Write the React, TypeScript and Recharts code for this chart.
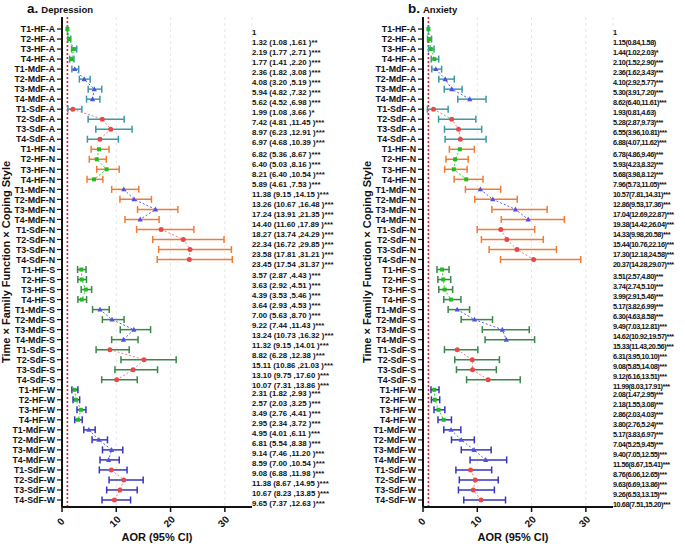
import React from "react";
import {
  ScatterChart,
  Scatter,
  XAxis,
  YAxis,
  CartesianGrid,
  ErrorBar,
  ReferenceLine,
} from "recharts";

const times = ["T1", "T2", "T3", "T4"];
const families = ["HF", "MdF", "SdF"];
const copings = ["A", "N", "S", "W"];

// Depression (panel a), 48 rows: coping x family x time
const depAor = [
  1, 1.32, 2.19, 1.77, 2.36, 4.08, 5.94, 5.62, 1.99, 7.42, 8.97, 6.97,
  6.82, 6.4, 8.21, 5.89, 11.38, 13.26, 17.24, 14.4, 18.27, 22.34, 23.58, 23.45,
  3.57, 3.63, 4.39, 3.64, 7.0, 9.22, 13.24, 11.32, 8.82, 15.11, 13.1, 10.07,
  2.31, 2.57, 3.49, 2.95, 4.95, 6.81, 9.14, 8.59, 9.08, 11.38, 10.67, 9.65,
];
const depLow = [
  1, 1.08, 1.77, 1.41, 1.82, 3.2, 4.82, 4.52, 1.08, 4.81, 6.23, 4.68,
  5.36, 5.03, 6.4, 4.61, 9.15, 10.67, 13.91, 11.6, 13.74, 16.72, 17.81, 17.54,
  2.87, 2.92, 3.53, 2.93, 5.63, 7.44, 10.73, 9.15, 6.28, 10.86, 9.75, 7.31,
  1.82, 2.03, 2.76, 2.34, 4.01, 5.54, 7.46, 7.0, 6.88, 8.67, 8.23, 7.37,
];
const depHigh = [
  1, 1.61, 2.71, 2.2, 3.08, 5.19, 7.32, 6.98, 3.66, 11.45, 12.91, 10.39,
  8.67, 8.16, 10.54, 7.53, 14.15, 16.48, 21.35, 17.89, 24.29, 29.85, 31.21, 31.37,
  4.43, 4.51, 5.46, 4.53, 8.7, 11.43, 16.32, 14.01, 12.38, 21.03, 17.6, 13.86,
  2.93, 3.25, 4.41, 3.72, 6.11, 8.38, 11.2, 10.54, 11.98, 14.95, 13.85, 12.63,
];
const depSig = [
  "", "**", "***", "***", "***", "***", "***", "***", "*", "***", "***", "***",
  ...Array(36).fill("***"),
];

// Anxiety (panel b)
const anxAor = [
  1, 1.15, 1.44, 2.1, 2.36, 4.1, 5.3, 8.62, 1.93, 5.28, 6.55, 6.88,
  6.78, 5.93, 5.68, 7.96, 10.57, 12.86, 17.04, 19.38, 14.33, 15.44, 17.3, 20.37,
  3.51, 3.74, 3.99, 5.17, 6.3, 9.49, 14.62, 15.33, 6.31, 9.08, 9.12, 11.99,
  2.08, 2.18, 2.86, 3.8, 5.17, 7.04, 9.4, 11.56, 8.76, 9.63, 9.26, 10.68,
];
const anxLow = [
  1, 0.84, 1.02, 1.52, 1.62, 2.92, 3.91, 6.4, 0.81, 2.87, 3.96, 4.07,
  4.86, 4.23, 3.98, 5.73, 7.81, 9.53, 12.69, 14.42, 9.98, 10.76, 12.18, 14.28,
  2.57, 2.74, 2.91, 3.82, 4.63, 7.03, 10.92, 11.43, 3.95, 5.85, 6.16, 8.03,
  1.47, 1.55, 2.03, 2.76, 3.83, 5.25, 7.05, 8.67, 6.06, 6.69, 6.53, 7.51,
];
const anxHigh = [
  1, 1.58, 2.03, 2.9, 3.43, 5.77, 7.2, 11.61, 4.63, 9.73, 10.81, 11.62,
  9.46, 8.32, 8.12, 11.05, 14.31, 17.36, 22.87, 26.04, 20.58, 22.16, 24.58, 29.07,
  4.8, 5.1, 5.46, 6.99, 8.58, 12.81, 19.57, 20.56, 10.1, 14.08, 13.51, 17.91,
  2.95, 3.08, 4.03, 5.24, 6.97, 9.45, 12.55, 15.41, 12.65, 13.86, 13.15, 15.2,
];
const anxSig = [
  "", "", "*", "***", "***", "***", "***", "***", "", "***", "***", "***",
  ...Array(36).fill("***"),
];

const xTicks = [0, 10, 20, 30];

const FONT = "'Liberation Sans', Arial, sans-serif";

const familyLine: Record<string, string> = {
  HF: "#22dd22",
  MdF: "#5a5af0",
  SdF: "#f08080",
};
const familyPoint: Record<string, string> = {
  HF: "#22bb22",
  MdF: "#5050e6",
  SdF: "#e84848",
};
const copingColor: Record<string, string> = {
  A: "#3d98a8",
  N: "#f07b35",
  S: "#3b8748",
  W: "#3535c0",
};

const rowLabels: string[] = [];
copings.forEach((c) =>
  families.forEach((f) => times.forEach((t) => rowLabels.push(`${t}-${f}-${c}`)))
);
const rowTicks = rowLabels.map((_, i) => i);

const makeMarker = (family: string) => (props: any) => {
  const { cx, cy } = props;
  if (cx == null || cy == null) return <g />;
  const fill = familyPoint[family];
  if (family === "HF") {
    return <rect x={cx - 2} y={cy - 2} width={4} height={4} fill={fill} />;
  }
  if (family === "MdF") {
    return (
      <polygon
        points={`${cx},${cy - 2.8} ${cx - 2.6},${cy + 2} ${cx + 2.6},${cy + 2}`}
        fill={fill}
      />
    );
  }
  return <circle cx={cx} cy={cy} r={2.5} fill={fill} />;
};

interface PanelProps {
  aor: number[];
  low: number[];
  high: number[];
  notes: string[];
  width: number;
  yAxisWidth: number;
  marginRight: number;
  noteDy: number[];
  noteSize: number;
  noteSpacing: number;
}

function Panel({
  aor,
  low,
  high,
  notes,
  width,
  yAxisWidth,
  marginRight,
  noteDy,
  noteSize,
  noteSpacing,
}: PanelProps) {
  const noteX = width - marginRight;

  const RowTick = (props: any) => {
    const { x, y, payload } = props;
    const i = payload.value as number;
    const block = Math.floor(i / 12);
    return (
      <g>
        <text
          x={x}
          y={y}
          dy={3.2}
          textAnchor="end"
          fontSize={8.8}
          fontWeight="bold"
          fontFamily={FONT}
          fill="#111"
        >
          {rowLabels[i]}
        </text>
        <text
          x={noteX}
          y={y}
          dy={3 + noteDy[block]}
          textAnchor="start"
          fontSize={noteSize}
          letterSpacing={noteSpacing}
          fontWeight="bold"
          fontFamily={FONT}
          fill="#111"
        >
          {notes[i]}
        </text>
      </g>
    );
  };

  const AorTick = (props: any) => {
    const { x, y, payload } = props;
    return (
      <text
        transform={`translate(${x - 1},${y + 8}) rotate(-45)`}
        textAnchor="middle"
        dy={3}
        fontSize={10}
        fontWeight="bold"
        fontFamily={FONT}
        fill="#111"
      >
        {payload.value}
      </text>
    );
  };

  const groups: { key: string; family: string; coping: string; data: any[] }[] = [];
  copings.forEach((c, ci) =>
    families.forEach((f, fi) => {
      const data = times.map((_, ti) => {
        const i = ci * 12 + fi * 4 + ti;
        return { row: i, aor: aor[i], err: [aor[i] - low[i], high[i] - aor[i]] };
      });
      groups.push({ key: `${f}-${c}`, family: f, coping: c, data });
    })
  );

  return (
    <ScatterChart
      width={width}
      height={544}
      margin={{ top: 17, right: marginRight, bottom: 7, left: 0 }}
    >
      <CartesianGrid stroke="#e6e6e6" strokeDasharray="3 3" horizontal={false} />
      <XAxis
        type="number"
        dataKey="aor"
        domain={[0, 35]}
        ticks={xTicks}
        allowDataOverflow
        height={30}
        axisLine={{ stroke: "#111", strokeWidth: 2 }}
        tickLine={{ stroke: "#111", strokeWidth: 1.5 }}
        tickSize={5}
        tick={AorTick}
      />
      <YAxis
        type="number"
        dataKey="row"
        domain={[-1.2, 47.7]}
        reversed
        ticks={rowTicks}
        interval={0}
        allowDataOverflow
        width={yAxisWidth}
        axisLine={{ stroke: "#111", strokeWidth: 2 }}
        tickLine={{ stroke: "#111", strokeWidth: 1.2 }}
        tickSize={5}
        tickMargin={2}
        tick={RowTick}
      />
      <ReferenceLine x={1} stroke="#e8202a" strokeWidth={1.6} strokeDasharray="2 2" />
      {groups.map((g) => (
        <Scatter
          key={g.key}
          data={g.data}
          isAnimationActive={false}
          line={{ stroke: familyLine[g.family], strokeWidth: 1, strokeDasharray: "2 2" }}
          lineType="joint"
          shape={makeMarker(g.family)}
        >
          <ErrorBar
            dataKey="err"
            direction="x"
            width={3.5}
            stroke={copingColor[g.coping]}
            strokeWidth={1.5}
            isAnimationActive={false}
          />
        </Scatter>
      ))}
    </ScatterChart>
  );
}

const depNotes = depAor.map((v, i) =>
  i === 0
    ? "1"
    : `${v.toFixed(2)} (${depLow[i].toFixed(2)} ,${depHigh[i].toFixed(2)} )${depSig[i]}`
);
const anxNotes = anxAor.map((v, i) =>
  i === 0
    ? "1"
    : `${v.toFixed(2)}(${anxLow[i].toFixed(2)},${anxHigh[i].toFixed(2)})${anxSig[i]}`
);

const titleStyle: React.CSSProperties = {
  position: "absolute",
  fontFamily: FONT,
  fontWeight: "bold",
  color: "#111",
  whiteSpace: "nowrap",
};

function AxisTitles({ yTitleX, xTitleX }: { yTitleX: number; xTitleX: number }) {
  return (
    <>
      <div
        style={{
          ...titleStyle,
          left: yTitleX,
          top: 262,
          fontSize: 11,
          transform: "translate(-50%, -50%) rotate(-90deg)",
        }}
      >
        Time × Family Function × Coping Style
      </div>
      <div
        style={{
          ...titleStyle,
          left: xTitleX,
          top: 537,
          fontSize: 11,
          transform: "translate(-50%, -50%)",
        }}
      >
        AOR (95% CI)
      </div>
    </>
  );
}

function PanelTitle({ x, letter, name }: { x: number; letter: string; name: string }) {
  return (
    <svg
      width={120}
      height={16}
      style={{ position: "absolute", left: x, top: 0, overflow: "visible" }}
    >
      <text x={0} y={12.5} fontFamily={FONT} fontWeight="bold" fill="#111">
        <tspan fontSize={13.5}>{letter}</tspan>
        <tspan fontSize={9.5} dx={3}>
          {name}
        </tspan>
      </text>
    </svg>
  );
}

export default function App() {
  return (
    <div
      style={{
        position: "absolute",
        left: 0,
        top: 0,
        width: 685,
        height: 544,
        background: "#fff",
        overflow: "hidden",
      }}
    >
      <div style={{ position: "absolute", left: 0, top: 0 }}>
        <Panel
          aor={depAor}
          low={depLow}
          high={depHigh}
          notes={depNotes}
          width={340}
          yAxisWidth={62}
          marginRight={88}
          noteDy={[3, 5, 5, 3]}
          noteSize={7.8}
          noteSpacing={0}
        />
      </div>
      <div style={{ position: "absolute", left: 340, top: 0 }}>
        <Panel
          aor={anxAor}
          low={anxLow}
          high={anxHigh}
          notes={anxNotes}
          width={345}
          yAxisWidth={83}
          marginRight={72}
          noteDy={[3, 5, 6, 4]}
          noteSize={7.3}
          noteSpacing={-0.45}
        />
      </div>
      <PanelTitle x={27} letter="a." name="Depression" />
      <PanelTitle x={408} letter="b." name="Anxiety" />
      <AxisTitles yTitleX={6} xTitleX={157} />
      <AxisTitles yTitleX={367} xTitleX={513} />
    </div>
  );
}
